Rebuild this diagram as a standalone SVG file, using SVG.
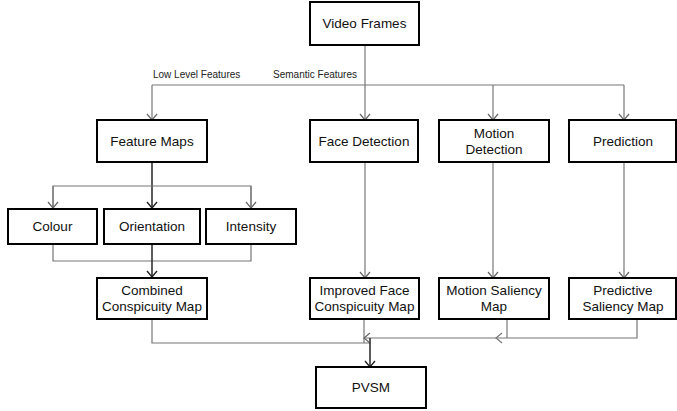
<svg xmlns="http://www.w3.org/2000/svg" width="677" height="411" viewBox="0 0 677 411">
<defs>
<style>
.box{fill:#fff;stroke:#000;stroke-width:2}
.t{font-family:"Liberation Sans",Arial,sans-serif;font-size:13.5px;fill:#111;text-anchor:middle;dominant-baseline:central}
.lbl{font-family:"Liberation Sans",Arial,sans-serif;font-size:10px;fill:#222}
.c{fill:none;stroke:#777;stroke-width:1.2}
.d{fill:none;stroke:#333;stroke-width:1.6}
</style>
<marker id="a" markerWidth="12" markerHeight="12" refX="10" refY="6" orient="auto" markerUnits="userSpaceOnUse">
<path d="M4,1 L10,6 L4,11" fill="none" stroke="#666" stroke-width="1.2"/>
</marker>
<marker id="ad" markerWidth="12" markerHeight="12" refX="10" refY="6" orient="auto" markerUnits="userSpaceOnUse">
<path d="M4,1 L10,6 L4,11" fill="none" stroke="#222" stroke-width="1.4"/>
</marker>
</defs>
<rect width="677" height="411" fill="#fff"/>
<g id="connectors">
<path class="c" d="M365,45 V120" marker-end="url(#a)"/>
<path class="c" d="M152,85 H624"/>
<path class="c" d="M152,85 V120" marker-end="url(#a)"/>
<path class="c" d="M493,85 V120" marker-end="url(#a)"/>
<path class="c" d="M624,85 V120" marker-end="url(#a)"/>
<path class="d" d="M152,162 V208" marker-end="url(#ad)"/>
<path class="c" d="M53,208 V186 H251 V208" />
<path class="c" d="M53,186 V208" marker-end="url(#a)"/>
<path class="c" d="M251,186 V208" marker-end="url(#a)"/>
<path class="c" d="M53,244 V261 H251 V244"/>
<path class="d" d="M152,244 V277" marker-end="url(#ad)"/>
<path class="c" d="M365,162 V278" marker-end="url(#a)"/>
<path class="c" d="M493,162 V278" marker-end="url(#a)"/>
<path class="c" d="M624,162 V278" marker-end="url(#a)"/>
<path class="c" d="M152,319 V343 H370"/>
<path class="c" d="M364,319 V343"/>
<path class="c" d="M637,319 V338 H364" marker-end="url(#a)"/>
<path class="c" d="M507,319 V338"/>
<path class="c" d="M502,333 L496,338 L502,343"/>
<path class="d" d="M370,338 V367" marker-end="url(#ad)"/>
<text class="lbl" x="153" y="78">Low Level Features</text>
<text class="lbl" x="357" y="78" text-anchor="end">Semantic Features</text>
</g>
<g id="video-frames"><rect class="box" x="310" y="2" width="109" height="43"/><text class="t" x="364.5" y="23.5">Video Frames</text></g>
<g id="feature-maps"><rect class="box" x="97" y="120" width="110" height="42"/><text class="t" x="152" y="141">Feature Maps</text></g>
<g id="face-detection"><rect class="box" x="310" y="120" width="108" height="42"/><text class="t" x="364" y="141">Face Detection</text></g>
<g id="motion-detection"><rect class="box" x="439" y="120" width="110" height="42"/><text class="t" x="494" y="133">Motion</text><text class="t" x="494" y="149">Detection</text></g>
<g id="prediction"><rect class="box" x="569" y="120" width="107" height="42"/><text class="t" x="623" y="141">Prediction</text></g>
<g id="colour"><rect class="box" x="8" y="209" width="89" height="35"/><text class="t" x="52.5" y="226.5">Colour</text></g>
<g id="orientation"><rect class="box" x="104" y="209" width="96" height="35"/><text class="t" x="152" y="226.5">Orientation</text></g>
<g id="intensity"><rect class="box" x="206" y="209" width="90" height="35"/><text class="t" x="251" y="226.5">Intensity</text></g>
<g id="combined"><rect class="box" x="97" y="278" width="110" height="41"/><text class="t" x="152" y="290">Combined</text><text class="t" x="152" y="306">Conspicuity Map</text></g>
<g id="improved-face"><rect class="box" x="310" y="278" width="109" height="41"/><text class="t" x="364.5" y="290">Improved Face</text><text class="t" x="364.5" y="306">Conspicuity Map</text></g>
<g id="motion-saliency"><rect class="box" x="439" y="278" width="110" height="41"/><text class="t" x="494" y="290">Motion Saliency</text><text class="t" x="494" y="306">Map</text></g>
<g id="predictive"><rect class="box" x="569" y="278" width="107" height="41"/><text class="t" x="623" y="290">Predictive</text><text class="t" x="623" y="306">Saliency Map</text></g>
<g id="pvsm"><rect class="box" x="316" y="367" width="110" height="41"/><text class="t" x="371" y="387.5">PVSM</text></g>
</svg>
